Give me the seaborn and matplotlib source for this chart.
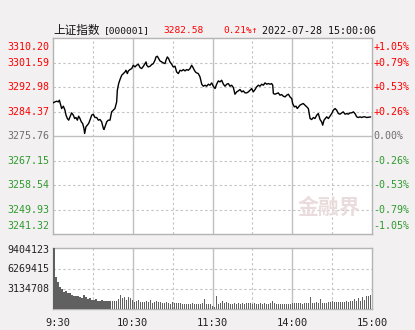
import numpy as np
import pandas as pd
import matplotlib
matplotlib.use("Agg")
import matplotlib.pyplot as plt
import seaborn as sns
from matplotlib import transforms

# ---------------- data ----------------
minutes = [0, 1.5, 2.8, 4.0, 4.8, 5.8, 6.5, 7.8, 9.0, 9.8, 10.8, 11.8, 12.8, 14.0, 15.3, 16.3,
           17.3, 18.3, 19.3, 20.3, 21.3, 22.3, 23.3, 23.8, 24.8, 25.8, 26.8, 27.8, 29.1, 30.3,
           31.6, 32.9, 34.1, 35.4, 36.6, 37.9, 38.4, 39.1, 40.4, 41.6, 42.9, 44.1, 45.4, 46.6,
           47.9, 48.4, 49.4, 50.4, 51.7, 52.9, 54.2, 54.9, 55.9, 56.7, 57.9, 59.2, 60.4, 61.7,
           62.9, 64.2, 65.5, 66.7, 68.0, 69.2, 70.0, 70.5, 71.7, 73.0, 74.2, 75.5, 76.7, 77.5,
           78.5, 79.5, 80.5, 81.8, 83.0, 84.3, 85.0, 86.0, 87.0, 88.0, 89.3, 90.5, 91.8, 93.0,
           94.3, 95.6, 96.8, 98.1, 99.3, 100.6, 101.8, 103.1, 104.3, 105.1, 106.1, 107.1, 108.1,
           109.3, 110.6, 111.9, 113.1, 114.4, 115.6, 116.9, 118.1, 119.4, 120.6, 121.9, 123.1,
           124.4, 125.6, 126.9, 128.2, 129.4, 130.7, 131.9, 133.2, 134.4, 135.7, 136.9, 138.2,
           139.4, 140.7, 142.0, 143.2, 144.5, 145.7, 147.0, 148.2, 149.5, 150.7, 152.0, 153.2,
           154.5, 155.7, 157.0, 158.3, 159.5, 160.8, 162.0, 163.3, 164.5, 165.3, 165.8, 167.0,
           168.3, 169.5, 170.8, 172.0, 173.3, 174.6, 175.8, 177.1, 178.3, 179.6, 180.3, 181.6,
           182.8, 183.8, 184.8, 185.8, 187.1, 188.3, 189.6, 190.9, 192.1, 193.4, 194.6, 195.9,
           197.1, 198.4, 199.6, 200.9, 202.1, 202.9, 203.9, 204.9, 205.9, 207.2, 208.4, 209.7,
           210.9, 212.2, 213.4, 214.7, 215.9, 217.2, 218.4, 219.7, 220.9, 222.2, 223.5, 224.7,
           226.0, 227.2, 228.5, 229.7, 231.0, 232.2, 233.5, 234.7, 236.0, 239.0]
prices = [3287.51, 3287.86, 3288.09, 3287.86, 3288.45, 3286.69, 3285.52, 3286.34, 3284.94, 3283.18,
          3282.01, 3281.43, 3282.60, 3284.00, 3283.18, 3282.01, 3282.36, 3281.43, 3282.83, 3282.01,
          3280.84, 3280.26, 3278.50, 3276.75, 3279.09, 3279.67, 3280.26, 3281.43, 3283.18, 3283.53,
          3282.36, 3282.36, 3281.43, 3281.66, 3280.84, 3278.50, 3278.15, 3279.09, 3280.84, 3281.43,
          3281.43, 3284.35, 3284.94, 3285.52, 3287.86, 3291.95, 3294.29, 3295.70, 3297.22, 3297.80,
          3298.39, 3298.97, 3297.80, 3298.74, 3299.21, 3299.56, 3300.73, 3300.14, 3300.73, 3301.08,
          3299.91, 3299.56, 3300.38, 3301.31, 3301.90, 3300.73, 3300.14, 3300.38, 3300.96, 3301.31,
          3302.48, 3303.65, 3303.89, 3303.07, 3302.25, 3301.90, 3301.55, 3301.31, 3302.48, 3303.65,
          3303.07, 3301.90, 3301.08, 3300.14, 3300.38, 3298.39, 3297.80, 3298.97, 3298.74, 3299.21,
          3298.74, 3299.21, 3298.97, 3299.56, 3300.73, 3300.14, 3299.21, 3298.39, 3298.04, 3297.80,
          3296.63, 3294.06, 3293.36, 3293.71, 3293.36, 3294.06, 3293.71, 3294.53, 3293.36, 3292.54,
          3294.06, 3295.23, 3294.88, 3295.46, 3294.06, 3293.36, 3294.06, 3294.29, 3293.36, 3293.71,
          3292.89, 3290.55, 3291.37, 3291.72, 3292.19, 3291.37, 3291.72, 3291.02, 3291.02, 3291.37,
          3291.95, 3292.54, 3291.37, 3292.19, 3293.12, 3293.71, 3293.36, 3294.06, 3293.71, 3294.53,
          3294.06, 3294.29, 3294.06, 3294.29, 3293.71, 3290.78, 3290.55, 3290.78, 3291.02, 3290.20,
          3290.43, 3289.85, 3289.61, 3290.20, 3290.55, 3289.61, 3289.03, 3287.27, 3286.10, 3286.34,
          3285.52, 3286.10, 3286.69, 3287.04, 3287.27, 3286.69, 3286.10, 3285.52, 3282.01, 3281.66,
          3282.36, 3282.01, 3283.18, 3283.76, 3281.66, 3280.84, 3279.67, 3281.43, 3282.01, 3282.60,
          3282.01, 3282.83, 3283.76, 3284.93, 3285.52, 3284.93, 3283.76, 3283.53, 3284.00, 3284.35,
          3283.53, 3283.76, 3283.53, 3284.00, 3284.00, 3284.35, 3283.76, 3282.60, 3282.36, 3282.60,
          3282.36, 3282.60, 3282.60, 3282.36, 3282.58]

volumes = [9404123, 4890000, 4210000, 3440000, 3080000, 2670000, 2820000, 2470000, 2410000, 2200000,
           2000000, 1950000, 1950000, 1900000, 1700000, 2160000, 1850000, 1540000, 1700000, 1390000,
           1440000, 1490000, 1280000, 1280000, 1440000, 1280000, 1230000, 1230000, 1230000, 1230000,
           1190000, 1190000, 1590000, 2240000, 1740000, 1840000, 1440000, 1840000, 1740000, 1340000,
           1090000, 1190000, 1340000, 1090000, 1090000, 1090000, 1240000, 1090000, 1340000, 1000000,
           1090000, 1190000, 1090000, 1090000, 1000000, 950000, 1090000, 1000000, 850000, 1090000,
           950000, 1000000,
           1000000, 950000, 850000, 750000, 750000, 850000, 700000, 900000, 750000, 700000,
           750000, 850000, 950000, 1490000, 750000, 700000, 700000, 450000, 250000, 2090000,
           850000, 950000, 1240000, 950000, 1040000, 1000000, 850000, 750000, 900000, 700000,
           1000000, 800000,
           860000, 810000, 860000, 910000, 860000, 810000,
           860000, 810000, 760000, 860000, 810000, 860000, 760000, 810000, 860000, 1210000,
           860000, 760000, 760000, 810000, 760000, 760000, 810000, 760000, 810000, 960000,
           910000, 860000, 860000, 910000, 810000, 860000, 910000, 960000, 1820000, 910000,
           860000, 1110000, 860000, 1620000, 860000, 910000, 860000, 1010000, 1110000, 1310000,
           1010000, 1110000, 1110000, 1060000, 1110000, 1110000, 1310000, 1060000, 1210000, 1260000,
           1520000, 1210000, 1720000, 1310000, 1820000, 1410000, 1970000, 2070000, 2120000]

price_ticks = [3310.20, 3301.59, 3292.98, 3284.37, 3275.76, 3267.15, 3258.54, 3249.93, 3241.32]
pct_labels = ["+1.05%", "+0.79%", "+0.53%", "+0.26%", "0.00%", "-0.26%", "-0.53%", "-0.79%", "-1.05%"]
vol_ticks = [9404123, 6269415, 3134708]
time_ticks = [0, 60, 120, 180, 240]
time_labels = ["9:30", "10:30", "11:30", "14:00", "15:00"]
prev_close = 3275.76
last_price = "3282.58"
change_pct = "0.21%\u2191"
stamp = "2022-07-28 15:00:06"

# ---------------- style ----------------
sns.set_style("white")
plt.rcParams["font.family"] = ["DejaVu Sans Mono", "Noto Sans CJK SC"]
RED = "#FF0000"
GREEN = "#2F9A2F"
GRAY = "#6E6E6E"
GRID = "#C4C4C4"
SOLID = "#C0C0C0"
FS = 7.2

W, H = 415, 330
fig = plt.figure(figsize=(W / 100, H / 100), dpi=100)
fig.patch.set_facecolor("#F2F0F0")

def rect(l, t, r, b):
    return [l / W, 1 - b / H, (r - l) / W, (b - t) / H]

ax = fig.add_axes(rect(53, 38.3, 372, 234.3))
axv = fig.add_axes(rect(53, 248.3, 372, 309))

dash = (0, (2.2, 2.2))

def frame(a):
    a.set_facecolor("white")
    for s in a.spines.values():
        s.set_color("#B4B4B4")
        s.set_linewidth(1.0)
    a.tick_params(length=0)

# ---------------- price panel ----------------
df = pd.DataFrame({"minute": minutes, "price": prices})
frame(ax)
for yt in price_ticks[1:-1]:
    if yt == prev_close:
        ax.axhline(yt, color=SOLID, lw=1.0, zorder=1)
    else:
        ax.axhline(yt, color=GRID, lw=0.8, ls=dash, zorder=1)
for m in [30, 90, 150, 210]:
    ax.axvline(m, color=GRID, lw=0.8, ls=dash, zorder=1)
    axv.axvline(m, color=GRID, lw=0.8, ls=dash, zorder=1)
for m in [60, 120, 180]:
    ax.axvline(m, color=SOLID, lw=1.0, zorder=1)
    axv.axvline(m, color=SOLID, lw=1.0, zorder=1)

ax.text(0.865, 0.14, "金融界", transform=ax.transAxes, ha="center", va="center",
        fontsize=15, fontweight="bold", color="#EADCDC", family=["Noto Sans CJK SC"], zorder=1.5)

sns.lineplot(data=df, x="minute", y="price", ax=ax, color="black", lw=1.0, zorder=3)
ax.set_xlim(0, 240)
ax.set_ylim(price_ticks[-1], price_ticks[0])
ax.set_xticks([])
ax.set_xlabel("")
ax.set_ylabel("")
ax.set_yticks([])

def lab_color(i):
    if i < 4:
        return RED
    if i == 4:
        return GRAY
    return GREEN

for i, (yt, pl) in enumerate(zip(price_ticks, pct_labels)):
    va = "center"
    off = 0
    if i == 0:
        va, off = "top", -2.5
    elif i == len(price_ticks) - 1:
        va, off = "bottom", 2.5
    tr_l = transforms.offset_copy(ax.get_yaxis_transform(), fig=fig, x=-2.5, y=off, units="points")
    tr_r = transforms.offset_copy(ax.get_yaxis_transform(), fig=fig, x=0.8, y=off, units="points")
    ax.text(0, yt, f"{yt:.2f}", transform=tr_l, ha="right", va=va, fontsize=FS, color=lab_color(i))
    ax.text(1, yt, pl, transform=tr_r, ha="left", va=va, fontsize=FS, color=lab_color(i))

# ---------------- volume panel ----------------
vol_x = np.linspace(0.9, 239, len(volumes))
dv = pd.DataFrame({"t": vol_x, "vol": volumes})
frame(axv)
for yt in vol_ticks[1:]:
    axv.axhline(yt, color=GRID, lw=0.8, ls=dash, zorder=1)
sns.barplot(data=dv, x="t", y="vol", native_scale=True, color="#606060", saturation=1,
            width=0.78, errorbar=None, linewidth=0, ax=axv, zorder=3)
axv.set_xlim(0, 240)
axv.set_ylim(0, vol_ticks[0])
axv.set_xlabel("")
axv.set_ylabel("")
axv.set_yticks([])
axv.set_xticks([])
for i, vt in enumerate(vol_ticks):
    off = -1.5 if i == 0 else 0
    tr_l = transforms.offset_copy(axv.get_yaxis_transform(), fig=fig, x=-2.5, y=off, units="points")
    axv.text(0, vt, str(vt), transform=tr_l, ha="right", va="center", fontsize=FS, color="#222222")
for i, (tt, tl) in enumerate(zip(time_ticks, time_labels)):
    dx = 3.2 if i == 0 else 0
    tr = transforms.offset_copy(axv.get_xaxis_transform(), fig=fig, x=dx, y=-6.5, units="points")
    axv.text(tt, 0, tl, transform=tr, ha="center", va="top", fontsize=FS + 0.3, color="#222222")

# ---------------- header ----------------
ty = 1 - 30.5 / H
fig.text(53 / W, ty, "上证指数", ha="left", va="center", fontsize=8.4,
         family=["Noto Sans CJK SC"], color="#111111")
fig.text(104 / W, ty, "[000001]", ha="left", va="center", fontsize=6.8, color="#111111")
fig.text(163 / W, ty, last_price, ha="left", va="center", fontsize=6.8, color=RED)
fig.text(223 / W, ty, change_pct, ha="left", va="center", fontsize=6.8, color=RED)
fig.text(262 / W, ty, stamp, ha="left", va="center", fontsize=FS, color="#111111")

fig.savefig("out.png", dpi=100, facecolor=fig.get_facecolor())
